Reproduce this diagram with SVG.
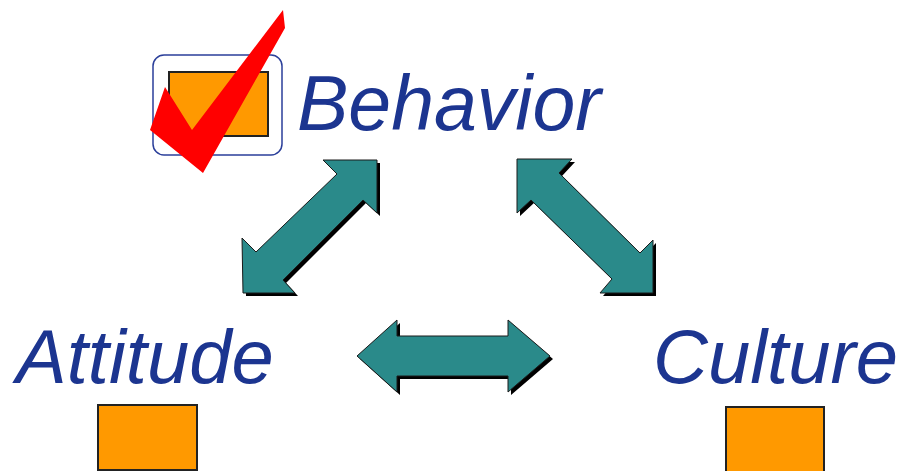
<svg xmlns="http://www.w3.org/2000/svg" width="903" height="471" viewBox="0 0 903 471">
<style>
.lbl{font-family:"Liberation Sans",Arial,sans-serif;font-style:italic;font-size:76px;fill:#1C3590}
.box{fill:#FF9900;stroke:#222;stroke-width:2}
.arr{fill:#2A8A8A;stroke:#1a1a1a;stroke-width:1}
.sh{fill:#000}
</style>
<rect width="903" height="471" fill="#fff"/>
<g id="behavior">
<rect x="153" y="55" width="129" height="100" rx="11" fill="none" stroke="#2B3F9A" stroke-width="1.5"/>
<rect class="box" x="169" y="72" width="99" height="64"/>
<polygon points="165,87 192,130 283,10 285,28 203,173 150,130" fill="#FF0000"/>
<text class="lbl" x="297" y="130" style="font-size:77px">Behavior</text>
</g>
<g id="attitude">
<text class="lbl" x="16" y="383">Attitude</text>
<rect class="box" x="98" y="405" width="99" height="65"/>
</g>
<g id="culture">
<text class="lbl" x="653" y="383">Culture</text>
<rect class="box" x="726" y="407" width="98" height="70"/>
</g>
<g id="connectors">
<g transform="translate(3,3)">
<polygon class="sh" points="377,160 377,213 363,200 283,280 295,293 243,293 242,238 256,252 337,174 323,160"/>
<polygon class="sh" points="517,159 572,159 559,173 640,253 653,240 653,293 600,293 612,279 531,200 517,213"/>
<polygon class="sh" points="357,356 397,320 397,336 508,336 508,320 550,356 508,392 508,376 397,376 397,392"/>
</g>
<polygon class="arr" points="377,160 377,213 363,200 283,280 295,293 243,293 242,238 256,252 337,174 323,160"/>
<polygon class="arr" points="517,159 572,159 559,173 640,253 653,240 653,293 600,293 612,279 531,200 517,213"/>
<polygon class="arr" points="357,356 397,320 397,336 508,336 508,320 550,356 508,392 508,376 397,376 397,392"/>
</g>
</svg>
